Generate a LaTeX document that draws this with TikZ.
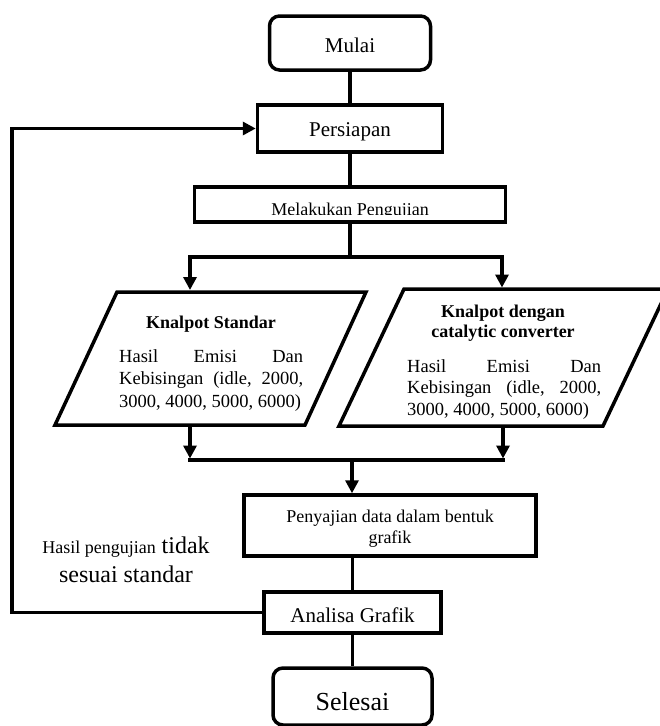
\documentclass[tikz,border=0pt]{standalone}
\usepackage{fontspec}
\setmainfont{Liberation Serif}
\usetikzlibrary{arrows.meta}
\tikzset{
  flow/.style={line width=3.5pt},
  arr/.style={flow, -{Triangle[length=13pt,width=13pt]}},
  box/.style={draw, line width=3.5pt, inner sep=0pt, align=center},
  rbox/.style={box, rounded corners=10pt},
  iobox/.style={draw, line width=3.5pt, line join=miter},
}
\begin{document}
\begin{tikzpicture}[x=1pt,y=-1pt]
\fill[white] (0,0) rectangle (660,726);
\useasboundingbox (0,0) rectangle (660,726);

% boxes
\node[rbox, minimum width=161pt, minimum height=54pt, font=\fontsize{21pt}{25pt}\selectfont, text height=18pt, text depth=0pt] (mulai) at (350,43) {Mulai};
\node[box, minimum width=185pt, minimum height=47pt, font=\fontsize{21pt}{25pt}\selectfont, text height=15pt, text depth=0pt] (pers) at (350,128.5) {Persiapan};
\node[box, minimum width=311pt, minimum height=35pt] (mel) at (350,204.5) {};
\begin{scope}
  \clip (193,186) rectangle (508,214);
  \node[anchor=base, inner sep=0pt, font=\fontsize{18pt}{20pt}\selectfont] (melT) at (350,215.5) {Melakukan Pengujian};
\end{scope}

% parallelograms
\draw[iobox] (117,292) -- (366,292) -- (305,425) -- (55,425) -- cycle;
\draw[iobox] (404,289) -- (668,289) -- (603,426) -- (339,426) -- cycle;

\node[anchor=base, inner sep=0pt, font=\bfseries\fontsize{18pt}{20pt}\selectfont] (pLtitle) at (211,328) {Knalpot Standar};
\node[anchor=base west, inner sep=0pt, align=left, font=\fontsize{18.5pt}{22.5pt}\selectfont] (pLbody) at (119,407)
  {\hbox to 184pt{Hasil\hfill Emisi\hfill Dan}\\ \hbox to 184pt{Kebisingan\hfill (idle,\hfill 2000,}\\ 3000, 4000, 5000, 6000)};

\node[anchor=base, inner sep=0pt, align=center, font=\bfseries\fontsize{18pt}{20pt}\selectfont] (pRtitle) at (503,337) {Knalpot dengan\\catalytic converter};
\node[anchor=base west, inner sep=0pt, align=left, font=\fontsize{18.5pt}{21.5pt}\selectfont] (pRbody) at (407,415)
  {\hbox to 194pt{Hasil\hfill Emisi\hfill Dan}\\ \hbox to 194pt{Kebisingan\hfill (idle,\hfill 2000,}\\ 3000, 4000, 5000, 6000)};

\node[box, minimum width=292pt, minimum height=61pt] (peny) at (390,525.5) {};
\node[anchor=base, inner sep=0pt, align=center, font=\fontsize{18pt}{21pt}\selectfont] (penyT) at (390,543) {Penyajian data dalam bentuk\\grafik};

\node[box, minimum width=177pt, minimum height=41pt, font=\fontsize{21pt}{25pt}\selectfont, text height=19pt, text depth=0pt] (ana) at (352.5,612.5) {Analisa Grafik};
\node[rbox, minimum width=159pt, minimum height=57pt, font=\fontsize{26pt}{30pt}\selectfont, text height=27pt, text depth=0pt] (sel) at (352.5,696.5) {Selesai};

\node[anchor=base, inner sep=0pt, align=center, font=\fontsize{24pt}{29pt}\selectfont] (lbl) at (126,582) {{\fontsize{18pt}{20pt}\selectfont Hasil pengujian} tidak\\sesuai standar};

% coordinates
\coordinate (fork) at (350,257);
\coordinate (pLin) at (190,290);
\coordinate (pRin) at (502,287.5);
\coordinate (pLout) at (190,427);
\coordinate (pRout) at (503,428);
\coordinate (jLa) at (190,458.5);
\coordinate (jRa) at (503,458.5);
\coordinate (jL) at (190,460);
\coordinate (jR) at (503,460);
\coordinate (jC) at (352,460);
\coordinate (loopx) at (12,0);

% connectors
\draw[flow] (mulai.south) -- (pers.north);
\draw[flow] (pers.south) -- (mel.north);
\draw[flow] (mel.south) -- (fork);
\draw[arr, line join=miter] (fork) -| (pLin);
\draw[arr, line join=miter] (fork) -| (pRin);
\draw[arr] (pLout) -- (jLa);
\draw[arr] (pRout) -- (jRa);
\draw[flow, line cap=rect] (jL) -- (jR);
\draw[arr] (jC) -- (jC |- peny.north);
\draw[flow] (peny.south -| ana.north) -- (ana.north);
\draw[flow] (ana.south) -- (sel.north);
\draw[arr, line join=miter] (ana.west) -- (ana.west -| loopx) |- (pers.west);
\end{tikzpicture}
\end{document}
